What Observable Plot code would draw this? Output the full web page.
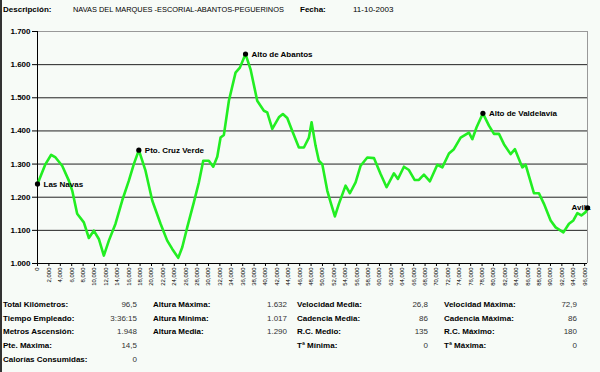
<!DOCTYPE html>
<html>
<head>
<meta charset="utf-8">
<script src="https://cdn.jsdelivr.net/npm/d3@7"></script>
<script src="https://cdn.jsdelivr.net/npm/@observablehq/plot@0.6"></script>
<style>
  html, body { margin: 0; padding: 0; background: #f7fbf7; }
  #wrap { position: relative; width: 600px; height: 372px; overflow: hidden; background: #f7fbf7;
          font-family: "Liberation Sans", Arial, sans-serif; color: #000; }
  #wrap .edge { position: absolute; left: 0; top: 0; width: 2px; height: 372px; background: #333; }
  .t { position: absolute; white-space: nowrap; font-size: 8px; line-height: 10px; }
  .b { font-weight: bold; }
  .v { color: #333; text-align: right; }
  .n { font-size: 7.4px; }
  #chart { position: absolute; left: 0; top: 0; }
  #chart svg g[aria-label="y-axis tick label"] text { font-weight: bold; }
</style>
</head>
<body>
<div id="wrap">
  <div class="edge"></div>
  <div id="chart"></div>
  <div id="header"></div>
  <div id="stats"></div>
</div>
<script>
// ---- Header ----
const headerTitleLabel = "Descripción:";
const headerTitle = "NAVAS DEL MARQUES -ESCORIAL-ABANTOS-PEGUERINOS";
const headerDateLabel = "Fecha:";
const headerDate = "11-10-2003";

// ---- Elevation profile (distance in m, altitude in m) ----
const distances = [
  0, 1400, 2400, 3160, 4330, 5500, 6090, 6960, 8130, 9010,
  9880, 10760, 11640, 12520, 13690, 14860, 16030, 16900, 17780, 18950,
  20130, 21590, 22760, 23640, 24690, 25400, 26270, 27440, 28320, 29080,
  30060, 30830, 31540, 32120, 32700, 33580, 34750, 35510, 36500, 37380,
  38550, 39720, 40310, 41190, 42350, 43050, 43820, 44700, 45860, 46740,
  47620, 48090, 48790, 49370, 49960, 50840, 51420, 52180, 52880, 54050,
  54810, 55810, 56690, 57860, 59030, 60200, 61250, 62530, 63240, 64290,
  65170, 66160, 66920, 67330, 67800, 68850, 70150, 71030, 72190, 73060,
  74240, 75700, 76290, 77040, 78150, 79210, 80090, 80970, 81840, 83010,
  83770, 85060, 85640, 87100, 87980, 88860, 90030, 90910, 92270, 93250,
  94020, 94720, 95420, 96170, 96500
];
const altitudes = [
  1240, 1300, 1328, 1320, 1295, 1250, 1220, 1150, 1124, 1077,
  1099, 1074, 1024, 1069, 1120, 1190, 1250, 1300, 1342, 1280,
  1190, 1120, 1069, 1044, 1017, 1049, 1109, 1185, 1245, 1310,
  1310, 1292, 1322, 1380, 1388, 1491, 1576, 1591, 1632, 1586,
  1491, 1461, 1456, 1406, 1441, 1451, 1439, 1400, 1350, 1350,
  1380, 1426, 1355, 1310, 1300, 1220, 1185, 1142, 1180, 1235,
  1212, 1245, 1295, 1320, 1318, 1270, 1230, 1272, 1255, 1292,
  1282, 1252, 1252, 1260, 1268, 1248, 1298, 1290, 1332, 1345,
  1380, 1395, 1375, 1411, 1453, 1416, 1391, 1391, 1360, 1330,
  1345, 1290, 1298, 1212, 1212, 1180, 1130, 1109, 1094, 1120,
  1130, 1152, 1145, 1155, 1168
];

// ---- Waypoints ----
const waypointNames = ["Las Navas", "Pto. Cruz Verde", "Alto de Abantos", "Alto de Valdelavía", "Avila"];
const waypointDistances = [0, 17780, 36500, 78150, 96500];
const waypointAltitudes = [1240, 1342, 1632, 1453, 1168];

// ---- Axis ticks ----
const yTicks = [1000, 1100, 1200, 1300, 1400, 1500, 1600, 1700];
const xTicks = d3.range(0, 96001, 2000);

// ---- Summary table ----
const col1Labels = ["Total Kilómetros:", "Tiempo Empleado:", "Metros Ascensión:", "Pte. Máxima:", "Calorías Consumidas:"];
const col1Values = ["96,5", "3:36:15", "1.948", "14,5", "0"];
const col2Labels = ["Altura Máxima:", "Altura Mínima:", "Altura Media:"];
const col2Values = ["1.632", "1.017", "1.290"];
const col3Labels = ["Velocidad Media:", "Cadencia Media:", "R.C. Medio:", "Tª Mínima:"];
const col3Values = ["26,8", "86", "135", "0"];
const col4Labels = ["Velocidad Máxima:", "Cadencia Máxima:", "R.C.  Máximo:", "Tª Máxima:"];
const col4Values = ["72,9", "86", "180", "0"];

// ---- Build tables for Plot ----
const profile = distances.map((d, i) => ({dist: d, alt: altitudes[i]}));
const waypoints = waypointNames.map((n, i) => ({name: n, dist: waypointDistances[i], alt: waypointAltitudes[i]}));

const fmtDot = d => d3.format(",")(d).replace(/,/g, ".");
const fmtComma = d => d3.format(",")(d);
const xMax = 96500;

const chart = Plot.plot({
  width: 600,
  height: 292,
  marginLeft: 37,
  marginRight: 13,
  marginTop: 31,
  marginBottom: 29,
  style: {background: "transparent", fontFamily: "Liberation Sans, Arial, sans-serif", color: "#000"},
  x: {domain: [0, xMax]},
  y: {domain: [1000, 1700]},
  marks: [
    Plot.ruleY(yTicks.slice(1, -1), {stroke: "#222", strokeWidth: 1}),
    Plot.ruleY([1700], {stroke: "#999", strokeWidth: 1}),
    Plot.ruleX([xMax], {stroke: "#999", strokeWidth: 1}),
    Plot.axisY({ticks: yTicks, tickFormat: fmtDot, tickSize: 5, tickPadding: 2,
                fontSize: 8, fontWeight: "bold", label: null}),
    Plot.axisX({ticks: xTicks, tickFormat: fmtComma, tickRotate: -90, tickSize: 3, tickPadding: 1,
                fontSize: 6, label: null}),
    Plot.ruleX([0], {stroke: "#000", strokeWidth: 1}),
    Plot.ruleY([1000], {stroke: "#000", strokeWidth: 1}),
    Plot.line(profile, {x: "dist", y: "alt", stroke: "#22ee22", strokeWidth: 2.6,
                        strokeLinejoin: "round", strokeLinecap: "round"}),
    Plot.text(waypoints.filter(w => w.name !== "Avila"), {x: "dist", y: "alt", text: "name",
              textAnchor: "start", dx: 6, fontSize: 8, fontWeight: "bold", fill: "#000"}),
    Plot.text(waypoints.filter(w => w.name === "Avila"), {x: "dist", y: "alt", text: "name",
              textAnchor: "start", dx: -16, fontSize: 8, fontWeight: "bold", fill: "#000"}),
    Plot.dot(waypoints, {x: "dist", y: "alt", r: 2.6, fill: "#000", stroke: "none"})
  ]
});
document.getElementById("chart").appendChild(chart);

// ---- Header ----
function addText(parent, txt, left, top, cls, width) {
  const el = document.createElement("div");
  el.className = "t " + cls;
  el.textContent = txt;
  el.style.top = top + "px";
  if (width) { el.style.left = (left - width) + "px"; el.style.width = width + "px"; }
  else el.style.left = left + "px";
  parent.appendChild(el);
}
const header = document.getElementById("header");
addText(header, headerTitleLabel, 3, 5, "b");
addText(header, headerTitle, 73, 5, "n");
addText(header, headerDateLabel, 300, 5, "b");
addText(header, headerDate, 353, 5, "");

// ---- Stats ----
const stats = document.getElementById("stats");
const rowTops = [300, 313.5, 327, 341, 354.5];
const cols = [
  {labels: col1Labels, values: col1Values, lx: 3, vx: 137},
  {labels: col2Labels, values: col2Values, lx: 153, vx: 287},
  {labels: col3Labels, values: col3Values, lx: 297, vx: 428},
  {labels: col4Labels, values: col4Values, lx: 444, vx: 577}
];
cols.forEach(c => {
  c.labels.forEach((l, i) => addText(stats, l, c.lx, rowTops[i], "b"));
  c.values.forEach((v, i) => addText(stats, v, c.vx, rowTops[i], "v", 60));
});
</script>
</body>
</html>
